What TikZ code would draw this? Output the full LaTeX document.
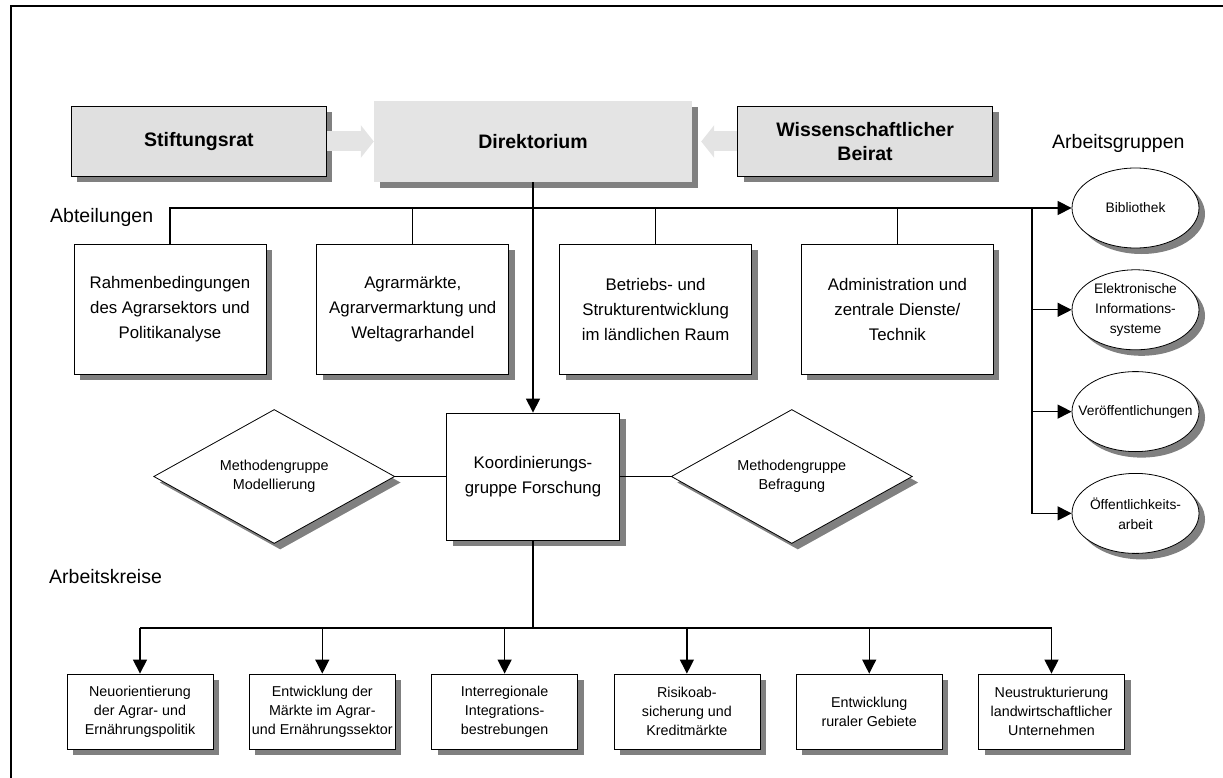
\documentclass[tikz,border=0pt]{standalone}
\usepackage{fontspec}
\setmainfont{Liberation Sans}
\usepackage{xcolor}
\usepackage{tikz}
\usetikzlibrary{positioning,shapes.geometric,arrows.meta,shadows}
\definecolor{boxgray}{HTML}{E0E0E0}
\definecolor{dirgray}{HTML}{E4E4E4}
\definecolor{shadegray}{HTML}{808080}

\begin{document}
\begin{tikzpicture}[x=1pt,y=-1pt,
dshadow/.style={drop shadow={shadow xshift=6pt,shadow yshift=-6pt,fill=shadegray,opacity=1}},
topbox/.style={draw,rectangle,fill=boxgray,dshadow,line width=0.8pt,minimum width=255pt,minimum height=70pt,align=center,font=\fontsize{19.5}{24}\selectfont\bfseries},
dirbox/.style={rectangle,fill=dirgray,dshadow,minimum width=318pt,minimum height=81pt,font=\fontsize{19.5}{24}\selectfont\bfseries},
abtbox/.style={draw,rectangle,fill=white,dshadow,line width=0.8pt,minimum width=192pt,minimum height=130pt,align=center,font=\fontsize{16.8}{25}\selectfont},
methdia/.style={draw,diamond,aspect=1.8,fill=white,dshadow,line width=0.8pt,inner sep=0pt,minimum width=241pt,minimum height=134pt,align=center,font=\fontsize{14.4}{19}\selectfont},
grpell/.style={draw,ellipse,fill=white,dshadow,line width=0.8pt,inner xsep=-16pt,inner ysep=-3pt,minimum width=127pt,minimum height=80pt,align=center,font=\fontsize{13.8}{20}\selectfont},
akbox/.style={draw,rectangle,fill=white,dshadow,line width=0.8pt,inner sep=1pt,minimum width=146pt,minimum height=75pt,align=center,font=\fontsize{14.3}{19}\selectfont},
lab/.style={anchor=west,inner sep=0pt,font=\fontsize{19.5}{24}\selectfont},
conn/.style={line width=1.2pt},
arr/.style={conn,-{Triangle[length=14pt,width=14pt]}},
blockarr/.style={line width=20pt,draw=dirgray,-{Triangle[length=13pt,width=32pt]}}]
\useasboundingbox (0,0) rectangle (1223,778);
\draw[line width=2.2pt] (1223,5.7) -| (11,778);

% Leitung
\node (dir) [dirbox] at (533,141.5) {Direktorium};
\node (stift) [topbox,left=47pt of dir] {Stiftungsrat};
\node (beirat) [topbox,right=45pt of dir] {Wissenschaftlicher\\Beirat};

% Abteilungen
\node (rahmen) [abtbox] at (170,309) {Rahmenbedingungen\\des Agrarsektors und\\Politikanalyse};
\node (agrar) [abtbox,right=50pt of rahmen] {Agrarmärkte,\\Agrarvermarktung und\\Weltagrarhandel};
\node (betrieb) [abtbox,right=50pt of agrar] {Betriebs- und\\Strukturentwicklung\\im ländlichen Raum};
\node (admin) [abtbox,right=49pt of betrieb] {Administration und\\zentrale Dienste/\\Technik};

% Koordinierung
\node (koord) [abtbox,minimum width=173pt,minimum height=127pt] at (533,476.5) {Koordinierungs-\\gruppe Forschung};
\node (modell) [methdia,left=51pt of koord] {Methodengruppe\\Modellierung};
\node (befrag) [methdia,right=51pt of koord] {Methodengruppe\\Befragung};

% Arbeitsgruppen
\node (bib) [grpell] at (1135.5,208) {Bibliothek};
\node (elek) [grpell,below=21pt of bib] {Elektronische\\Informations-\\systeme};
\node (veroe) [grpell,below=21pt of elek] {Veröffentlichungen};
\node (oeff) [grpell,below=21pt of veroe] {Öffentlichkeits-\\arbeit};

% Arbeitskreise
\node (neuor) [akbox] at (140,711.5) {Neuorientierung\\der Agrar- und\\Ernährungspolitik};
\node (maerkte) [akbox,right=35.5pt of neuor] {Entwicklung der\\Märkte im Agrar-\\und Ernährungssektor};
\node (integ) [akbox,right=35.5pt of maerkte] {Interregionale\\Integrations-\\bestrebungen};
\node (risiko) [akbox,right=35.5pt of integ] {Risikoab-\\sicherung und\\Kreditmärkte};
\node (rural) [akbox,right=35.5pt of risiko] {Entwicklung\\ruraler Gebiete};
\node (neustr) [akbox,right=35.5pt of rural] {Neustrukturierung\\landwirtschaftlicher\\Unternehmen};

\node (abtlab) [lab] at (50,217) {Abteilungen};
\node (grplab) [lab] at (1052,143) {Arbeitsgruppen};
\node (aklab) [lab] at (49,577) {Arbeitskreise};

\coordinate (grpbus) at (1032,208);
\coordinate (akbus) at (533,628);

\draw[blockarr] (stift.east) -- (dir.west);
\draw[blockarr,shorten >=9pt] (beirat.west) -- (dir.east);
\draw[arr] (dir.south) -- (koord.north);
\draw[arr] (rahmen.north) |- (bib.west);
\draw[conn] (agrar.north) -- (agrar.north |- bib.west);
\draw[conn] (betrieb.north) -- (betrieb.north |- bib.west);
\draw[conn] (admin.north) -- (admin.north |- bib.west);
\draw[arr] (grpbus) |- (oeff.west);
\draw[arr] (grpbus |- elek.west) -- (elek.west);
\draw[arr] (grpbus |- veroe.west) -- (veroe.west);
\draw[conn] (modell.east) -- (koord.west);
\draw[conn] (koord.east) -- (befrag.west);
\draw[conn] (koord.south) -- (akbus);
\draw[conn] (akbus -| neuor.north) -- (akbus -| neustr.north);
\draw[arr] (akbus -| neuor.north) -- (neuor.north);
\draw[arr] (akbus -| maerkte.north) -- (maerkte.north);
\draw[arr] (akbus -| integ.north) -- (integ.north);
\draw[arr] (akbus -| risiko.north) -- (risiko.north);
\draw[arr] (akbus -| rural.north) -- (rural.north);
\draw[arr] (akbus -| neustr.north) -- (neustr.north);
\end{tikzpicture}
\end{document}
